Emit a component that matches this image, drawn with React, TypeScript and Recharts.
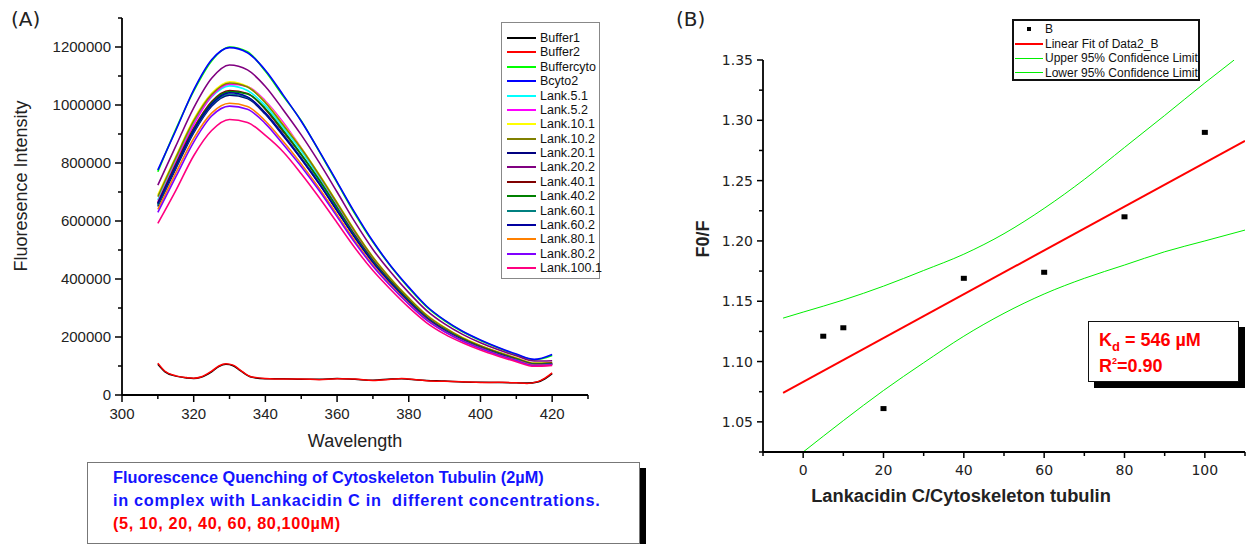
import React from 'react';
import { LineChart, Line, XAxis, YAxis, ComposedChart, Scatter } from 'recharts';

// ---- (A) emission spectra ----
const wavelengths = [310, 315, 320, 325, 330, 335, 340, 345, 350, 355, 360, 365, 370, 375, 380, 385, 390, 395, 400, 405, 410, 415, 420];

const buffercyto = [770000, 916000, 1048000, 1152000, 1200000, 1184000, 1116000, 1030000, 946000, 840000, 732000, 624000, 527000, 443000, 369000, 304000, 256000, 218000, 188000, 162000, 139000, 121000, 136000];
const bcyto2 = [776000, 912000, 1052000, 1156000, 1198000, 1180000, 1120000, 1034000, 944000, 842000, 735000, 628000, 530000, 445000, 372000, 306000, 258000, 220000, 190000, 164000, 141000, 123000, 140000];
const lank51 = [672000, 810000, 938000, 1028000, 1066000, 1050000, 998000, 922000, 842000, 752000, 656000, 560000, 472000, 398000, 332000, 273000, 230000, 196000, 169000, 146000, 126000, 108000, 110000];
const lank52 = [666000, 802000, 932000, 1030000, 1072000, 1064000, 1014000, 940000, 852000, 758000, 660000, 561000, 472000, 397000, 330000, 271000, 228000, 194000, 167000, 144000, 124000, 106000, 108000];
const lank101 = [690000, 822000, 950000, 1040000, 1080000, 1064000, 1010000, 933000, 852000, 761000, 664000, 566000, 476000, 401000, 335000, 276000, 233000, 198000, 171000, 148000, 128000, 110000, 112000];
const lank102 = [684000, 818000, 945000, 1036000, 1076000, 1062000, 1008000, 930000, 850000, 759000, 662000, 564000, 475000, 400000, 334000, 275000, 232000, 197000, 170000, 147000, 127000, 109000, 111000];
const lank201 = [650000, 780000, 904000, 996000, 1034000, 1022000, 968000, 893000, 814000, 728000, 635000, 542000, 457000, 385000, 321000, 264000, 223000, 190000, 163000, 141000, 121000, 104000, 106000];
const lank202 = [724000, 858000, 990000, 1092000, 1138000, 1121000, 1064000, 983000, 897000, 802000, 700000, 596000, 502000, 423000, 353000, 291000, 245000, 209000, 180000, 156000, 135000, 117000, 118000];
const lank401 = [662000, 795000, 920000, 1012000, 1050000, 1040000, 985000, 908000, 828000, 741000, 646000, 550000, 464000, 391000, 326000, 268000, 226000, 193000, 166000, 144000, 124000, 107000, 109000];
const lank402 = [658000, 790000, 916000, 1008000, 1046000, 1038000, 988000, 912000, 830000, 742000, 646000, 549000, 463000, 390000, 325000, 267000, 225000, 192000, 165000, 143000, 123000, 106000, 108000];
const lank601 = [655000, 786000, 908000, 1000000, 1038000, 1026000, 972000, 898000, 818000, 732000, 638000, 544000, 459000, 387000, 322000, 265000, 224000, 191000, 164000, 142000, 122000, 105000, 107000];
const lank602 = [660000, 788000, 912000, 1003000, 1042000, 1028000, 972000, 896000, 815000, 729000, 636000, 543000, 458000, 386000, 321000, 264000, 223000, 190000, 163000, 141000, 121000, 104000, 107000];
const lank801 = [640000, 765000, 885000, 972000, 1006000, 995000, 945000, 874000, 797000, 713000, 622000, 531000, 448000, 378000, 315000, 260000, 219000, 187000, 161000, 139000, 120000, 103000, 105000];
const lank802 = [630000, 752000, 872000, 962000, 996000, 985000, 936000, 864000, 788000, 705000, 615000, 525000, 444000, 375000, 313000, 258000, 218000, 186000, 160000, 138000, 119000, 102000, 104000];
const lank1001 = [592000, 705000, 825000, 912000, 950000, 940000, 895000, 838000, 763000, 681000, 594000, 507000, 429000, 363000, 302000, 249000, 210000, 180000, 155000, 134000, 115000, 99000, 102000];

const bufferWavelengths = [310, 312, 315, 318, 320, 322, 325, 327, 329, 331, 333, 336, 340, 345, 350, 355, 360, 365, 370, 375, 378, 380, 385, 390, 395, 400, 405, 410, 413, 416, 418, 420];
const buffer1 = [106000, 80000, 65000, 59000, 57000, 61000, 80000, 98000, 106000, 101000, 84000, 62000, 56000, 56000, 54000, 54000, 57000, 54000, 51000, 55000, 56000, 54000, 50000, 48000, 45000, 44000, 43000, 42000, 41000, 45000, 56000, 74000];
const buffer2 = [110000, 82000, 66000, 60000, 58000, 62000, 82000, 100000, 108000, 103000, 86000, 63000, 57000, 55000, 55000, 53000, 56000, 55000, 50000, 54000, 57000, 55000, 49000, 47000, 46000, 43000, 44000, 42000, 40000, 46000, 58000, 76000];

const leftXTicks = [300, 310, 320, 330, 340, 350, 360, 370, 380, 390, 400, 410, 420, 430];
const leftYTicks = [0, 100000, 200000, 300000, 400000, 500000, 600000, 700000, 800000, 900000, 1000000, 1100000, 1200000, 1300000];

const spectra = [
  { name: 'Buffercyto', color: '#00ff00', values: buffercyto },
  { name: 'Bcyto2', color: '#0000ff', values: bcyto2 },
  { name: 'Lank.5.1', color: '#00ffff', values: lank51 },
  { name: 'Lank.5.2', color: '#ff00ff', values: lank52 },
  { name: 'Lank.10.1', color: '#ffff00', values: lank101 },
  { name: 'Lank.10.2', color: '#808000', values: lank102 },
  { name: 'Lank.20.1', color: '#000080', values: lank201 },
  { name: 'Lank.20.2', color: '#800080', values: lank202 },
  { name: 'Lank.40.1', color: '#800000', values: lank401 },
  { name: 'Lank.40.2', color: '#008000', values: lank402 },
  { name: 'Lank.60.1', color: '#008080', values: lank601 },
  { name: 'Lank.60.2', color: '#0000a0', values: lank602 },
  { name: 'Lank.80.1', color: '#ff8000', values: lank801 },
  { name: 'Lank.80.2', color: '#8000ff', values: lank802 },
  { name: 'Lank.100.1', color: '#ff0080', values: lank1001 },
];

const legendA = [
  { name: 'Buffer1', color: '#000000' },
  { name: 'Buffer2', color: '#ff0000' },
  ...spectra.map((s) => ({ name: s.name, color: s.color })),
];

const spectraRows = wavelengths.map((wl, i) => {
  const row: Record<string, number> = { wl };
  spectra.forEach((s) => {
    row[s.name] = s.values[i];
  });
  return row;
});
const bufferRows = bufferWavelengths.map((wl, i) => ({ wl, Buffer1: buffer1[i], Buffer2: buffer2[i] }));

// ---- (B) Stern-Volmer plot ----
const concentrations = [5, 10, 20, 40, 60, 80, 100];
const f0f = [1.121, 1.128, 1.061, 1.169, 1.174, 1.22, 1.29];
const fitX = [-5, 110];
const fitY = [1.074, 1.283];
const upperX = [-5, 0, 10, 20, 30, 40, 50, 60, 70, 80, 90, 100, 107.3];
const upperY = [1.136, 1.141, 1.151, 1.1625, 1.1755, 1.189, 1.206, 1.227, 1.251, 1.2775, 1.304, 1.331, 1.35];
const lowerX = [0, 10, 20, 30, 40, 50, 60, 70, 80, 90, 100, 110];
const lowerY = [1.025, 1.051, 1.076, 1.099, 1.121, 1.14, 1.156, 1.169, 1.18, 1.191, 1.2, 1.209];

const rightXTicks = [-10, 0, 10, 20, 30, 40, 50, 60, 70, 80, 90, 100, 110];
const rightYTicks = [1.025, 1.05, 1.075, 1.1, 1.125, 1.15, 1.175, 1.2, 1.225, 1.25, 1.275, 1.3, 1.325, 1.35];

const pointRows = concentrations.map((x, i) => ({ x, y: f0f[i] }));
const fitRows = fitX.map((x, i) => ({ x, y: fitY[i] }));
const upperRows = upperX.map((x, i) => ({ x, y: upperY[i] }));
const lowerRows = lowerX.map((x, i) => ({ x, y: lowerY[i] }));

const SANS = '"Liberation Sans", Arial, sans-serif';
const DEJAVU = '"DejaVu Sans", sans-serif';

const LeftXTick = ({ x, y, payload }: any) => {
  const major = payload.value % 20 === 0;
  return (
    <g>
      <line x1={x} x2={x} y1={y} y2={y + (major ? 7 : 4)} stroke="#000" strokeWidth={1.5} />
      {major && (
        <text x={x} y={y + 24} textAnchor="middle" fontSize={15} fill="#222" fontFamily={SANS}>
          {payload.value}
        </text>
      )}
    </g>
  );
};

const LeftYTick = ({ x, y, payload }: any) => {
  const major = payload.value % 200000 === 0;
  return (
    <g>
      <line x1={x} x2={x - (major ? 7 : 4)} y1={y} y2={y} stroke="#000" strokeWidth={1.5} />
      {major && (
        <text x={x - 11} y={y} dy="0.36em" textAnchor="end" fontSize={15} fill="#222" fontFamily={SANS}>
          {payload.value}
        </text>
      )}
    </g>
  );
};

const RightXTick = ({ x, y, payload }: any) => {
  const major = payload.value % 20 === 0;
  return (
    <g>
      <line x1={x} x2={x} y1={y} y2={y + (major ? 6 : 4)} stroke="#000" strokeWidth={1.5} />
      {major && (
        <text x={x} y={y + 23} textAnchor="middle" fontSize={14} fill="#222" fontFamily={DEJAVU}>
          {payload.value}
        </text>
      )}
    </g>
  );
};

const RightYTick = ({ x, y, payload }: any) => {
  const major = Math.round(payload.value * 1000) % 50 === 0;
  return (
    <g>
      <line x1={x} x2={x - (major ? 6 : 4)} y1={y} y2={y} stroke="#000" strokeWidth={1.5} />
      {major && (
        <text x={x - 10} y={y} dy="0.36em" textAnchor="end" fontSize={14} fill="#222" fontFamily={DEJAVU}>
          {payload.value.toFixed(2)}
        </text>
      )}
    </g>
  );
};

const SquareDot = ({ cx, cy }: any) => <rect x={cx - 3} y={cy - 2.5} width={6} height={5} fill="#000" />;

const abs = (left: number, top: number): React.CSSProperties => ({ position: 'absolute', left, top });

export default function App() {
  return (
    <div style={{ position: 'absolute', left: 0, top: 0, width: 1248, height: 544, background: '#fff', fontFamily: SANS, overflow: 'hidden' }}>
      {/* panel A */}
      <div style={{ ...abs(0, 0) }}>
        <LineChart width={600} height={460} data={spectraRows} margin={{ top: 18, right: 12, left: 0, bottom: 0 }}>
          <XAxis
            type="number"
            dataKey="wl"
            domain={[300, 430]}
            ticks={leftXTicks}
            interval={0}
            tickSize={0}
            tickMargin={0}
            tickLine={false}
            axisLine={{ stroke: '#000', strokeWidth: 1.8 }}
            tick={(p: any) => <LeftXTick {...p} />}
            height={65}
          />
          <YAxis
            type="number"
            domain={[0, 1300000]}
            ticks={leftYTicks}
            interval={0}
            tickSize={0}
            tickMargin={0}
            tickLine={false}
            axisLine={{ stroke: '#000', strokeWidth: 1.8 }}
            tick={(p: any) => <LeftYTick {...p} />}
            width={122}
          />
          <Line data={bufferRows} dataKey="Buffer1" stroke="#000000" strokeWidth={1.5} dot={false} type="monotone" isAnimationActive={false} />
          <Line data={bufferRows} dataKey="Buffer2" stroke="#ff0000" strokeWidth={1.5} dot={false} type="monotone" isAnimationActive={false} />
          {spectra.map((s) => (
            <Line key={s.name} dataKey={s.name} stroke={s.color} strokeWidth={1.6} dot={false} type="monotone" isAnimationActive={false} />
          ))}
        </LineChart>
      </div>

      <div style={{ ...abs(11, 7), fontFamily: DEJAVU, fontSize: 20, color: '#222' }}>(A)</div>
      <div style={{ ...abs(21, 186), transform: 'translate(-50%, -50%) rotate(-90deg)', fontSize: 18, color: '#222', whiteSpace: 'nowrap' }}>
        Fluoresence Intensity
      </div>
      <div style={{ ...abs(355, 441), transform: 'translate(-50%, -50%)', fontSize: 18, color: '#222', whiteSpace: 'nowrap' }}>Wavelength</div>

      <div style={{ ...abs(501, 22), width: 99, height: 257, border: '1px solid #888', background: '#fff', boxSizing: 'border-box' }}>
        {legendA.map((s, i) => (
          <div key={s.name} style={{ position: 'absolute', left: 5, top: 8 + i * 14.375, height: 14, display: 'flex', alignItems: 'center' }}>
            <div style={{ width: 29, height: 2, background: s.color }} />
            <span style={{ marginLeft: 4, fontSize: 12.5, lineHeight: '14px', color: '#111', whiteSpace: 'nowrap' }}>{s.name}</span>
          </div>
        ))}
      </div>

      <div style={{ ...abs(640, 468), width: 6, height: 80, background: '#000' }} />
      <div style={{ ...abs(87, 462), width: 553, height: 82, border: '1px solid #777', background: '#fff', boxSizing: 'border-box', fontWeight: 'bold', fontSize: 16.3, lineHeight: '23px', padding: '3px 0 0 25px' }}>
        <div style={{ color: '#1414ff', whiteSpace: 'nowrap' }}>Fluorescence Quenching of Cytoskeleton Tubulin (2µM)</div>
        <div style={{ color: '#1414ff', whiteSpace: 'pre', letterSpacing: 0.7 }}>in complex with Lankacidin C in  different concentrations.</div>
        <div style={{ color: '#ff0000', whiteSpace: 'nowrap', letterSpacing: 0.6 }}>(5, 10, 20, 40, 60, 80,100µM)</div>
      </div>

      {/* panel B */}
      <div style={{ ...abs(640, 0) }}>
        <ComposedChart width={608} height={544} margin={{ top: 60, right: 3, left: 0, bottom: 0 }}>
          <XAxis
            type="number"
            dataKey="x"
            domain={[-10, 110]}
            ticks={rightXTicks}
            interval={0}
            tickSize={0}
            tickMargin={0}
            tickLine={false}
            allowDataOverflow
            axisLine={{ stroke: '#000', strokeWidth: 1.8 }}
            tick={(p: any) => <RightXTick {...p} />}
            height={92}
          />
          <YAxis
            type="number"
            dataKey="y"
            domain={[1.025, 1.35]}
            ticks={rightYTicks}
            interval={0}
            tickSize={0}
            tickMargin={0}
            tickLine={false}
            allowDataOverflow
            axisLine={{ stroke: '#000', strokeWidth: 1.8 }}
            tick={(p: any) => <RightYTick {...p} />}
            width={123}
          />
          <Line data={upperRows} dataKey="y" stroke="#00ee00" strokeWidth={1} dot={false} type="monotone" isAnimationActive={false} />
          <Line data={lowerRows} dataKey="y" stroke="#00ee00" strokeWidth={1} dot={false} type="monotone" isAnimationActive={false} />
          <Line data={fitRows} dataKey="y" stroke="#ff0000" strokeWidth={2} dot={false} type="linear" isAnimationActive={false} />
          <Scatter data={pointRows} dataKey="y" fill="#000" shape={(p: any) => <SquareDot {...p} />} isAnimationActive={false} />
        </ComposedChart>
      </div>

      <div style={{ ...abs(676, 7), fontFamily: DEJAVU, fontSize: 20, color: '#222' }}>(B)</div>
      <div style={{ ...abs(703, 239), transform: 'translate(-50%, -50%) rotate(-90deg)', fontSize: 18, fontWeight: 'bold', color: '#222', whiteSpace: 'nowrap' }}>
        F0/F
      </div>
      <div style={{ ...abs(961, 496), transform: 'translate(-50%, -50%)', fontSize: 18.3, fontWeight: 'bold', color: '#222', whiteSpace: 'nowrap' }}>
        Lankacidin C/Cytoskeleton tubulin
      </div>

      <div style={{ ...abs(1012, 19), width: 188, height: 62, border: '2px solid #111', background: '#fff', boxSizing: 'border-box', fontSize: 12, color: '#111' }}>
        {[
          { label: 'B', kind: 'dot' },
          { label: 'Linear Fit of Data2_B', kind: 'fit' },
          { label: 'Upper 95% Confidence Limit', kind: 'band' },
          { label: 'Lower 95% Confidence Limit', kind: 'band' },
        ].map((e, i) => (
          <div key={e.label} style={{ position: 'absolute', left: 0, top: 1 + i * 14.6, height: 14, display: 'flex', alignItems: 'center', whiteSpace: 'nowrap' }}>
            <div style={{ width: 29, display: 'flex', justifyContent: 'center', alignItems: 'center' }}>
              {e.kind === 'dot' && <div style={{ width: 4, height: 4, background: '#000' }} />}
              {e.kind === 'fit' && <div style={{ width: 28, height: 2, background: '#ff0000' }} />}
              {e.kind === 'band' && <div style={{ width: 28, height: 1, background: '#00ee00' }} />}
            </div>
            <span style={{ marginLeft: 2, lineHeight: '14px' }}>{e.label}</span>
          </div>
        ))}
      </div>

      <div style={{ ...abs(1094, 327), width: 151, height: 61, background: '#000' }} />
      <div style={{ ...abs(1088, 321), width: 151, height: 61, border: '1.5px solid #111', background: '#fff', boxSizing: 'border-box', color: '#ff0000', fontWeight: 'bold', fontSize: 18, padding: '6px 0 0 10px', lineHeight: '25px' }}>
        <div style={{ whiteSpace: 'nowrap' }}>
          K<span style={{ fontSize: 13, position: 'relative', top: 5 }}>d</span> = 546 µM
        </div>
        <div style={{ whiteSpace: 'nowrap' }}>
          R<span style={{ fontSize: 9, position: 'relative', top: -8 }}>2</span>=0.90
        </div>
      </div>
    </div>
  );
}
